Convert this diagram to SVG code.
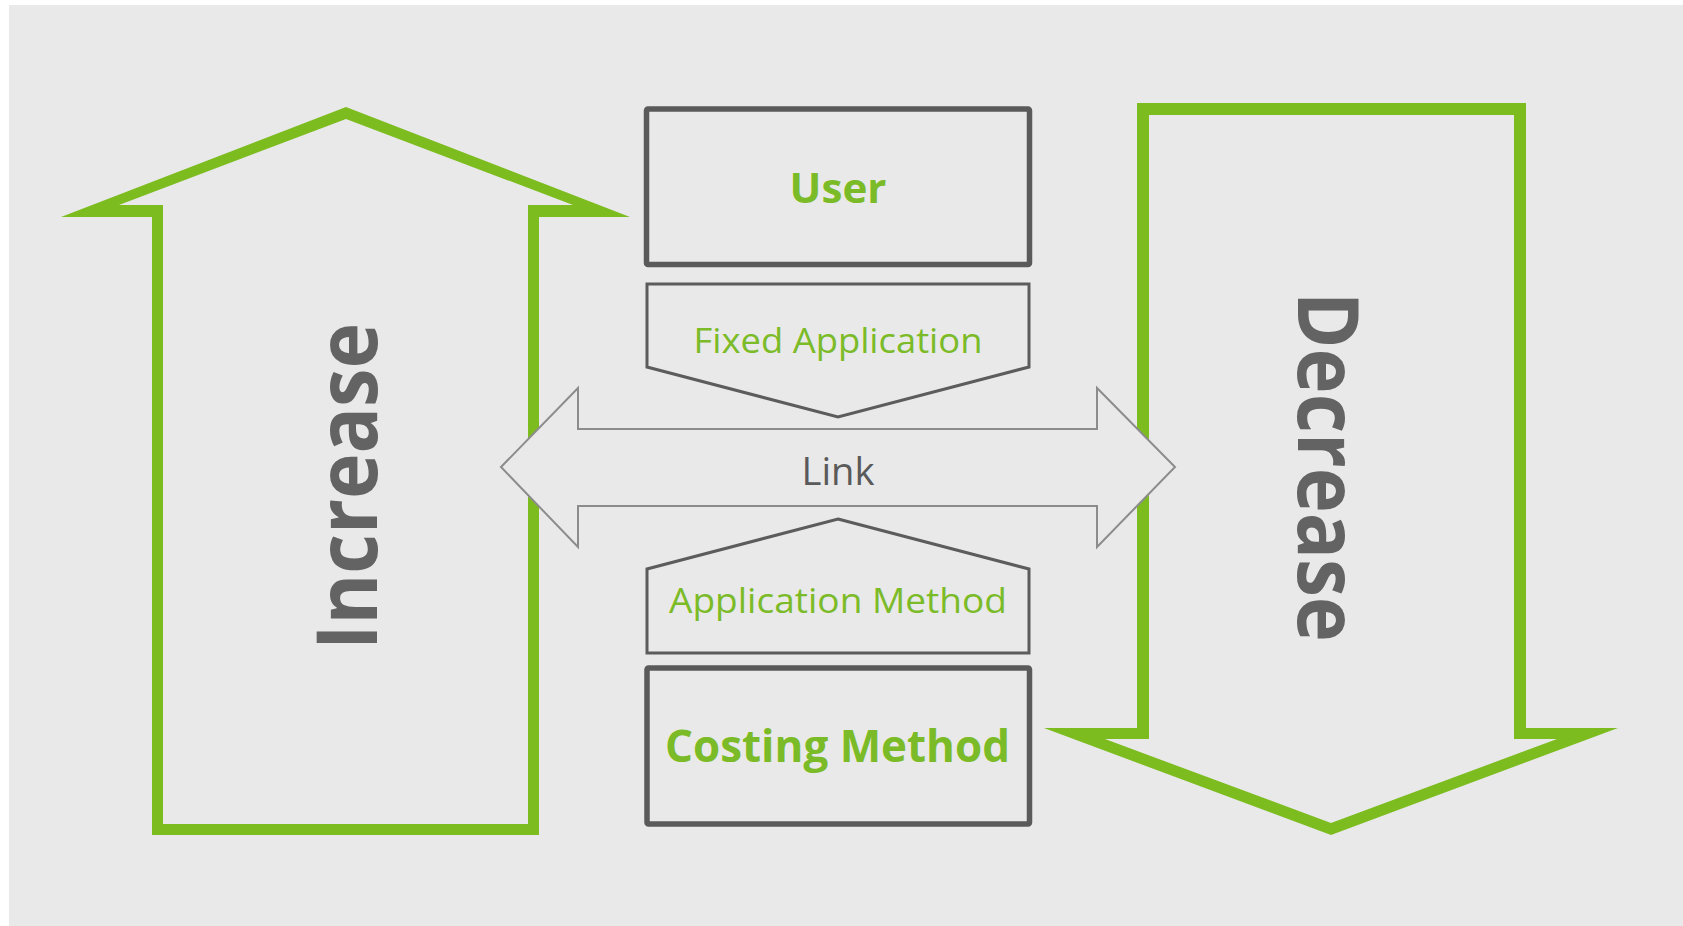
<svg xmlns="http://www.w3.org/2000/svg" width="1683" height="926" viewBox="0 0 1683 926">
  <style>
    .big { fill: #7cbc1f; fill-rule: evenodd; }
    .box { fill: none; stroke: #5a5a5a; stroke-width: 5.5; stroke-linejoin: round; }
    .pent { fill: none; stroke: #5c5c5c; stroke-width: 3; stroke-linejoin: miter; }
    .vlab { font-family: "Open Sans", "DejaVu Sans", sans-serif; font-weight: 700; font-size: 84px; fill: #636363; text-anchor: middle; }
    .glab { font-family: "Open Sans", "Liberation Sans", sans-serif; fill: #7bbb27; text-anchor: middle; }
    .link { fill: #e9e9e9; stroke: #8c8c8c; stroke-width: 2; stroke-linejoin: miter; }
    .ltxt { font-family: "Open Sans", "Liberation Sans", sans-serif; font-size: 39px; fill: #5a5a5a; text-anchor: middle; }
  </style>
  <rect x="0" y="0" width="1683" height="926" fill="#ffffff"/>
  <rect x="9" y="5" width="1674" height="921" fill="#e9e9e9"/>

  <g id="increase">
    <path class="big" d="M346,107 L630,217 L539,217 L539,835 L152,835 L152,217 L61,217 Z M346,119 L573,205 L528,205 L528,824 L163,824 L163,205 L119,205 Z"/>
    <text class="vlab" transform="translate(377,486.5) rotate(-90)" x="0" y="0" textLength="327" lengthAdjust="spacingAndGlyphs">Increase</text>
  </g>

  <g id="decrease">
    <path class="big" d="M1137,103 L1526,103 L1526,728 L1618,728 L1331,835 L1044,728 L1137,728 Z M1149,115 L1514,115 L1514,739 L1557,739 L1331,823 L1105,739 L1149,739 Z"/>
    <text class="vlab" transform="translate(1298,467) rotate(90)" x="0" y="0" textLength="350" lengthAdjust="spacingAndGlyphs">Decrease</text>
  </g>

  <g id="user">
    <rect class="box" x="646.5" y="109" width="383" height="155.5" rx="1.5"/>
    <text class="glab" x="838" y="203" font-size="42" font-weight="700" textLength="97" lengthAdjust="spacingAndGlyphs">User</text>
  </g>

  <g id="fixed-application">
    <polygon class="pent" points="647,284 1029,284 1029,367 838,417 647,367"/>
    <text class="glab" x="838" y="353" font-size="35" textLength="289" lengthAdjust="spacingAndGlyphs">Fixed Application</text>
  </g>

  <g id="connectors">
    <polygon class="link" points="501,467 578,388 578,429 1097,429 1097,388 1175,467 1097,547 1097,506 578,506 578,547"/>
  </g>

  <g id="link">
    <text class="ltxt" x="838" y="485" textLength="73" lengthAdjust="spacingAndGlyphs">Link</text>
  </g>

  <g id="application-method">
    <polygon class="pent" points="838,519 1029,569 1029,653 647,653 647,569"/>
    <text class="glab" x="838" y="613" font-size="34" textLength="338" lengthAdjust="spacingAndGlyphs">Application Method</text>
  </g>

  <g id="costing-method">
    <rect class="box" x="647" y="668" width="382.5" height="156" rx="1.5"/>
    <text class="glab" x="837.5" y="762" font-size="45" font-weight="700" textLength="345" lengthAdjust="spacingAndGlyphs">Costing Method</text>
  </g>
</svg>
